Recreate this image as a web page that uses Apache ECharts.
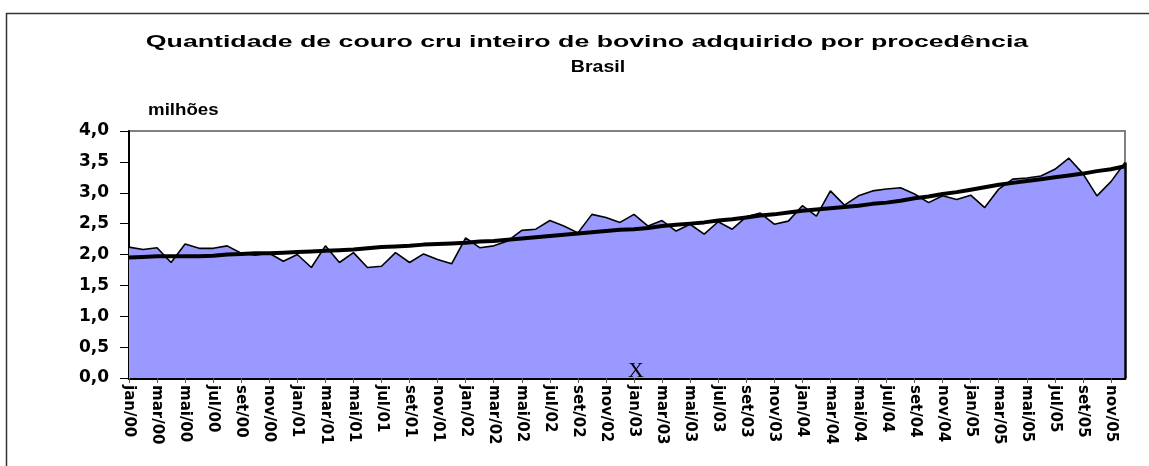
<!DOCTYPE html>
<html>
<head>
<meta charset="utf-8">
<script src="https://cdn.jsdelivr.net/npm/echarts@6/dist/echarts.min.js"></script>
<style>
html,body{margin:0;padding:0;background:#fff;}
#chart{width:1149px;height:466px;}
</style>
</head>
<body>
<div id="chart"></div>
<script>
// ---- data ----
const months = ['jan','fev','mar','abr','mai','jun','jul','ago','set','out','nov','dez'];
const years = ['00','01','02','03','04','05'];
const categories = [];
years.forEach(y => months.forEach(m => categories.push(m + '/' + y)));

const quantidade = [
  2.12, 2.08, 2.11, 1.87, 2.17, 2.10, 2.10, 2.14, 2.02, 1.99, 2.02, 1.89,
  2.00, 1.79, 2.14, 1.87, 2.03, 1.79, 1.81, 2.03, 1.87, 2.01, 1.92, 1.85,
  2.27, 2.11, 2.14, 2.22, 2.39, 2.41, 2.55, 2.46, 2.35, 2.65, 2.60, 2.52,
  2.65, 2.46, 2.55, 2.38, 2.49, 2.33, 2.53, 2.41, 2.61, 2.67, 2.49, 2.54,
  2.79, 2.62, 3.03, 2.80, 2.95, 3.03, 3.06, 3.08, 2.98, 2.84, 2.95, 2.89,
  2.96, 2.76, 3.06, 3.22, 3.24, 3.27, 3.38, 3.56, 3.31, 2.95, 3.18, 3.49
];

const tendencia = [
  1.95, 1.96, 1.97, 1.97, 1.97, 1.97, 1.98, 2.00, 2.01, 2.02, 2.02, 2.03,
  2.04, 2.05, 2.06, 2.07, 2.08, 2.10, 2.12, 2.13, 2.14, 2.16, 2.17, 2.18,
  2.19, 2.21, 2.22, 2.24, 2.26, 2.28, 2.30, 2.32, 2.34, 2.36, 2.38, 2.40,
  2.41, 2.43, 2.46, 2.48, 2.50, 2.52, 2.55, 2.57, 2.60, 2.63, 2.65, 2.68,
  2.71, 2.73, 2.75, 2.77, 2.79, 2.82, 2.84, 2.87, 2.91, 2.94, 2.98, 3.01,
  3.05, 3.09, 3.13, 3.16, 3.19, 3.22, 3.25, 3.28, 3.31, 3.35, 3.38, 3.43
];

const yTicks = [0, 0.5, 1.0, 1.5, 2.0, 2.5, 3.0, 3.5, 4.0];
const titleLine1 = 'Quantidade de couro cru inteiro de bovino adquirido por procedência';
const titleLine2 = 'Brasil';
const unitLabel = 'milhões';
const strayMark = 'X';

// ---- chart ----
const chart = echarts.init(document.getElementById('chart'), null, {renderer: 'canvas'});
const last = categories.length - 1;

const option = {
  animation: false,
  backgroundColor: '#ffffff',
  graphic: [
    { type: 'rect', left: 4, top: 11, z: 100, silent: true,
      shape: { width: 1170, height: 480 },
      style: { fill: 'none', stroke: '#333333', lineWidth: 1.5 } },
    { type: 'text', x: 587, y: 42, scaleX: 1.57, z: 100,
      style: { text: titleLine1, font: 'bold 17px "Liberation Sans", Arial, sans-serif',
               fill: '#000', textAlign: 'center', textVerticalAlign: 'middle' } },
    { type: 'text', x: 598, y: 67, scaleX: 1.15, z: 100,
      style: { text: titleLine2, font: 'bold 17px "Liberation Sans", Arial, sans-serif',
               fill: '#000', textAlign: 'center', textVerticalAlign: 'middle' } },
    { type: 'text', x: 148, y: 110, scaleX: 1.1, z: 100,
      style: { text: unitLabel, font: 'bold 17px "Liberation Sans", Arial, sans-serif',
               fill: '#000', textAlign: 'left', textVerticalAlign: 'middle' } },
    { type: 'text', x: 636, y: 371, z: 100,
      style: { text: strayMark, font: '22px "Liberation Serif", "Times New Roman", serif',
               fill: '#000', textAlign: 'center', textVerticalAlign: 'middle' } }
  ],
  grid: {
    left: 129, top: 131, width: 996, height: 247,
    show: true, backgroundColor: '#ffffff', borderColor: '#808080', borderWidth: 2
  },
  xAxis: {
    type: 'category',
    data: categories,
    boundaryGap: false,
    axisLine: { show: true, onZero: false, lineStyle: { color: '#000', width: 3 } },
    axisTick: { show: true, interval: 1, length: 5, lineStyle: { color: '#555', width: 1 } },
    axisLabel: {
      interval: 1, rotate: -90, margin: 7, color: '#000',
      fontFamily: '"DejaVu Sans", sans-serif', fontWeight: 'bold', fontSize: 15
    },
    splitLine: { show: false }
  },
  yAxis: {
    type: 'value',
    min: yTicks[0], max: yTicks[yTicks.length - 1], interval: 0.5,
    axisLine: { show: true, lineStyle: { color: '#000', width: 2 } },
    axisTick: { show: true, length: 9, lineStyle: { color: '#000', width: 1 } },
    axisLabel: {
      margin: 20, color: '#000',
      fontFamily: '"DejaVu Sans", sans-serif', fontWeight: 'bold', fontSize: 17,
      formatter: v => v.toFixed(1).replace('.', ',')
    },
    splitLine: { show: false }
  },
  series: [
    {
      name: 'Quantidade',
      type: 'line',
      data: quantidade,
      symbol: 'none',
      z: 2,
      lineStyle: { color: '#000', width: 1.6 },
      areaStyle: { color: '#9999FF', opacity: 1 },
      markLine: {
        silent: true, symbol: 'none', label: { show: false },
        lineStyle: { color: '#000', width: 2.5, type: 'solid' },
        data: [[ { coord: [categories[last], 0] }, { coord: [categories[last], quantidade[last]] } ]]
      }
    },
    {
      name: 'Tendência',
      type: 'line',
      data: tendencia,
      symbol: 'none',
      z: 3,
      lineStyle: { color: '#000', width: 4 }
    }
  ]
};
chart.setOption(option);
</script>
</body>
</html>
